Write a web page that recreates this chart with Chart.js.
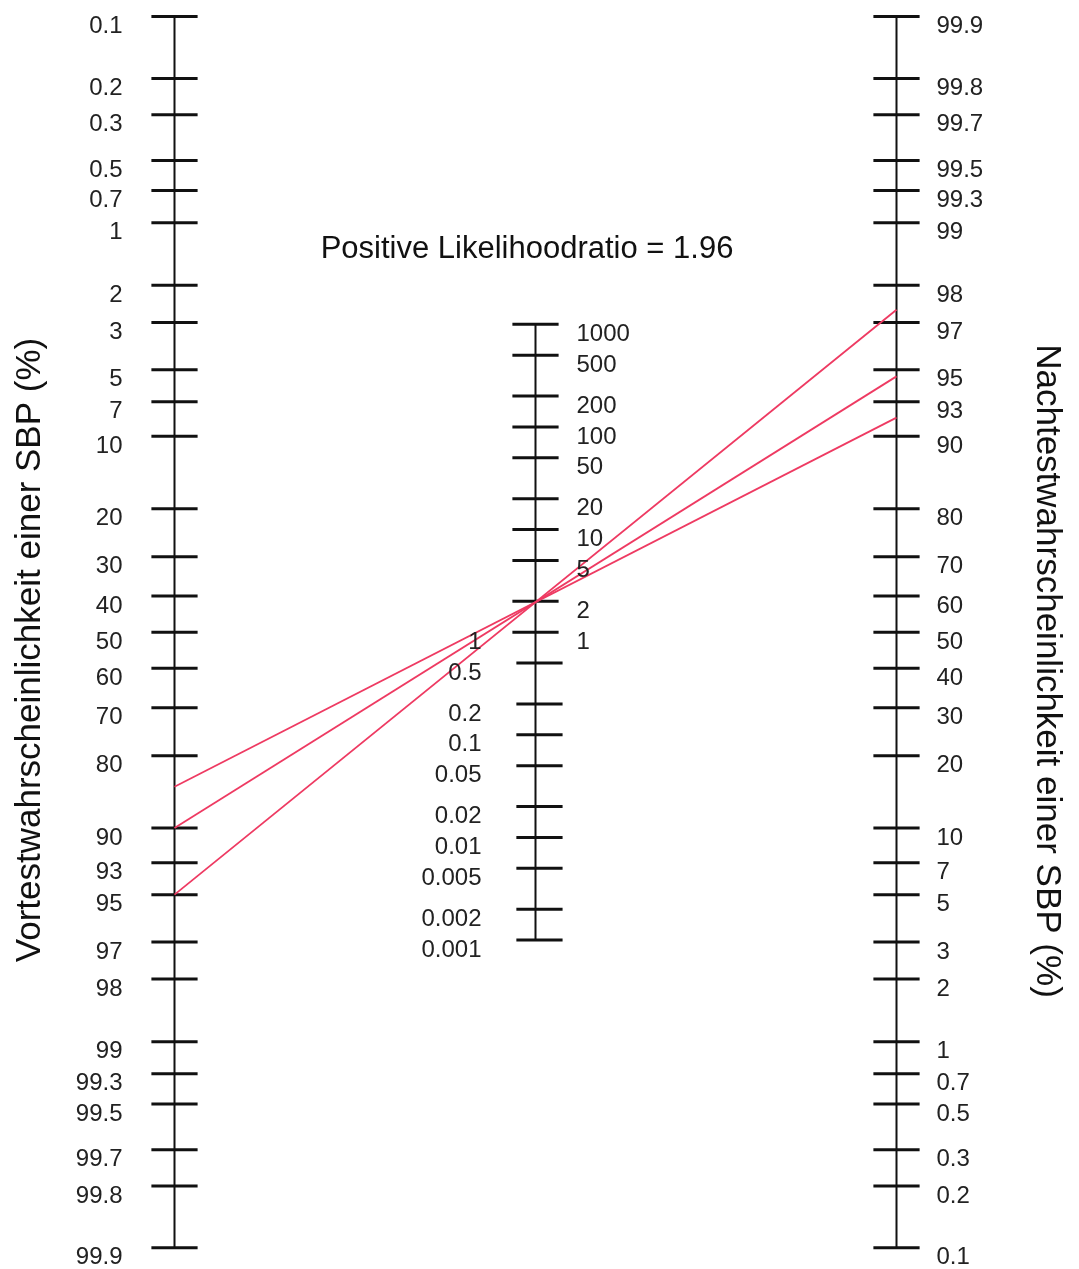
<!DOCTYPE html>
<html>
<head>
<meta charset="utf-8">
<script src="https://cdn.jsdelivr.net/npm/chart.js@4/dist/chart.umd.min.js"></script>
<style>
  html, body { margin: 0; padding: 0; background: #fff; }
  #wrap { width: 1079px; height: 1269px; position: relative; }
</style>
</head>
<body>
<div id="wrap"><canvas id="fagan"></canvas></div>
<script>
(() => {
  'use strict'

  // nomogram scales
  const pretestTicks = [0.1, 0.2, 0.3, 0.5, 0.7, 1, 2, 3, 5, 7, 10, 20, 30, 40, 50, 60, 70, 80, 90, 93, 95, 97, 98, 99, 99.3, 99.5, 99.7, 99.8, 99.9];
  const posttestTicks = [0.1, 0.2, 0.3, 0.5, 0.7, 1, 2, 3, 5, 7, 10, 20, 30, 40, 50, 60, 70, 80, 90, 93, 95, 97, 98, 99, 99.3, 99.5, 99.7, 99.8, 99.9];
  const lrTicksHigh = [1000, 500, 200, 100, 50, 20, 10, 5, 2, 1];
  const lrTicksLow = [1, 0.5, 0.2, 0.1, 0.05, 0.02, 0.01, 0.005, 0.002, 0.001];

  // the lines drawn
  const likelihoodRatio = 1.96;
  const pretestProbs = [85, 90, 95];

  const titleText = 'Positive Likelihoodratio = ' + likelihoodRatio;
  const leftTitle = 'Vortestwahrscheinlichkeit einer SBP (%)';
  const rightTitle = 'Nachtestwahrscheinlichkeit einer SBP (%)';

  const logit = p => Math.log(p / (100 - p));
  const yPre = p => logit(p);
  const yPost = p => -logit(p);
  const yLR = lr => -Math.log(lr) / 2;

  const X_PRE = 0, X_LR = 1, X_POST = 2;
  const HALF = 0.064;
  const LOW_SHIFT = 0.011;

  const black = '#111';
  const red = 'rgb(238,58,98)';

  const datasets = [];

  // red lines: pretest -> posttest through the LR
  pretestProbs.forEach(p => {
    const odds = p / (100 - p) * likelihoodRatio;
    const post = odds / (1 + odds) * 100;
    datasets.push({
      data: [{ x: X_PRE, y: yPre(p) }, { x: X_POST, y: yPost(post) }],
      borderColor: red,
      borderWidth: 1.8,
      order: 0
    });
  });

  const seg = (x1, y1, x2, y2, w) => datasets.push({
    data: [{ x: x1, y: y1 }, { x: x2, y: y2 }],
    borderColor: black,
    borderWidth: w,
    order: 1
  });

  // axis lines
  seg(X_PRE, yPre(pretestTicks[0]), X_PRE, yPre(pretestTicks[pretestTicks.length - 1]), 2);
  seg(X_POST, yPost(posttestTicks[0]), X_POST, yPost(posttestTicks[posttestTicks.length - 1]), 2);
  seg(X_LR, yLR(lrTicksHigh[0]), X_LR, yLR(lrTicksLow[lrTicksLow.length - 1]), 2);

  // ticks
  pretestTicks.forEach(p => seg(X_PRE - HALF, yPre(p), X_PRE + HALF, yPre(p), 3));
  posttestTicks.forEach(p => seg(X_POST - HALF, yPost(p), X_POST + HALF, yPost(p), 3));
  lrTicksHigh.forEach(v => seg(X_LR - HALF, yLR(v), X_LR + HALF, yLR(v), 3));
  lrTicksLow.filter(v => v < 1).forEach(v => seg(X_LR - HALF + LOW_SHIFT, yLR(v), X_LR + HALF + LOW_SHIFT, yLR(v), 3));

  const labelFont = '24px "Liberation Sans", Arial, sans-serif';

  const labelsPlugin = {
    id: 'nomoLabels',
    afterDatasetsDraw(chart) {
      const { ctx, scales: { x, y } } = chart;
      ctx.save();
      ctx.fillStyle = '#222';
      ctx.font = labelFont;
      ctx.textBaseline = 'middle';
      const dy = 10;

      ctx.textAlign = 'right';
      pretestTicks.forEach(p => ctx.fillText(String(p), x.getPixelForValue(X_PRE) - 52, y.getPixelForValue(yPre(p)) + dy));
      lrTicksLow.forEach(v => ctx.fillText(String(v), x.getPixelForValue(X_LR) - 54, y.getPixelForValue(yLR(v)) + dy));

      ctx.textAlign = 'left';
      posttestTicks.forEach(p => ctx.fillText(String(p), x.getPixelForValue(X_POST) + 40, y.getPixelForValue(yPost(p)) + dy));
      lrTicksHigh.forEach(v => ctx.fillText(String(v), x.getPixelForValue(X_LR) + 41, y.getPixelForValue(yLR(v)) + dy));

      // title
      ctx.fillStyle = '#111';
      ctx.textAlign = 'center';
      ctx.textBaseline = 'alphabetic';
      ctx.font = '31px "Liberation Sans", Arial, sans-serif';
      ctx.fillText(titleText, 527, 258);

      // axis titles
      ctx.font = '35px "Liberation Sans", Arial, sans-serif';
      ctx.textBaseline = 'middle';
      ctx.save();
      ctx.translate(30, 650);
      ctx.rotate(-Math.PI / 2);
      ctx.fillText(leftTitle, 0, 0);
      ctx.restore();
      ctx.save();
      ctx.translate(1047, 671);
      ctx.rotate(Math.PI / 2);
      ctx.fillText(rightTitle, 0, 0);
      ctx.restore();

      ctx.restore();
    }
  };

  // pixel mapping: axis at 174.5 / 535.5 / 896.5, logit 0 at y 632.2, 89.13 px per unit
  const ctx1 = document.getElementById('fagan');
  const faganChart = new Chart(ctx1, {
    type: 'line',
    data: { datasets },
    options: {
      responsive: true,
      maintainAspectRatio: false,
      animation: false,
      layout: { padding: 0 },
      elements: {
        point: { radius: 0, hoverRadius: 0 },
        line: { tension: 0, borderCapStyle: 'butt' }
      },
      scales: {
        x: {
          type: 'linear',
          display: false,
          min: -174.5 / 361,
          max: (1079 - 174.5) / 361
        },
        y: {
          type: 'linear',
          display: false,
          reverse: true,
          min: -632.2 / 89.13,
          max: (1269 - 632.2) / 89.13
        }
      },
      plugins: {
        legend: { display: false },
        tooltip: { enabled: false }
      }
    },
    plugins: [labelsPlugin]
  });

})();
</script>
</body>
</html>
